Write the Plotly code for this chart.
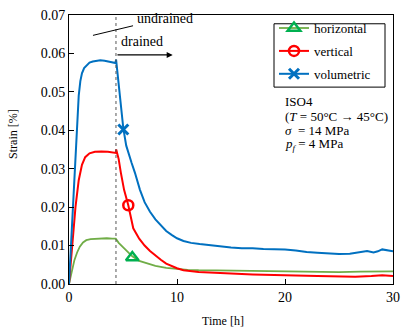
import plotly.graph_objects as go

# ---- data ----
t_vol = [0, 0.2, 0.45, 0.7, 0.9, 1.05, 1.2, 1.4, 1.65, 1.9, 2.2, 2.5, 2.9, 3.3, 3.7, 4.0, 4.3, 4.36,
         4.5, 4.75, 5.03, 5.3, 5.6, 5.8, 6.1, 6.57, 7.0, 7.5, 8.0, 8.5, 9.0, 9.5, 10.0, 10.6, 11.3,
         12.1, 13.0, 14.0, 15.0, 16.0, 17.0, 18.0, 19.0, 20.0, 21.0, 22.0, 23.0, 24.0, 25.0, 26.0,
         26.6, 27.2, 27.6, 28.2, 28.6, 29.0, 29.5, 30.0]
y_vol = [0, 0.011, 0.025, 0.038, 0.049, 0.0528, 0.0548, 0.0562, 0.0570, 0.0576, 0.0579, 0.0581,
         0.0582, 0.0581, 0.0579, 0.0578, 0.0575, 0.0584,
         0.0550, 0.0480, 0.0405, 0.0360, 0.0330, 0.0315, 0.0290, 0.0245, 0.0213, 0.0188, 0.0168,
         0.0152, 0.0138, 0.0128, 0.0119, 0.0112, 0.0107,
         0.0104, 0.0101, 0.0099, 0.0095, 0.0093, 0.0093, 0.0091, 0.0090, 0.0090, 0.0087, 0.0083,
         0.0081, 0.0080, 0.0078, 0.0079, 0.0082, 0.0085, 0.0086, 0.0082, 0.0085, 0.0090, 0.0088, 0.0085]

t_ver = [0, 0.3, 0.6, 0.9, 1.2, 1.5, 1.9, 2.4, 3.0, 3.6, 4.0, 4.33, 4.37, 4.6, 4.8, 5.1, 5.49, 5.95,
         6.5, 7.0, 7.5, 8.0, 8.5, 9.0, 9.5, 10.0, 10.6, 11.3, 12.0, 13.0, 14.0, 15.0, 17.0, 19.0,
         21.0, 23.0, 25.0, 26.5, 28.0, 29.0, 30.0]
y_ver = [0, 0.010, 0.020, 0.027, 0.031, 0.0330, 0.0340, 0.0344, 0.0345, 0.0344, 0.0342, 0.0341,
         0.0350, 0.0325, 0.0290, 0.0245, 0.0205, 0.0145,
         0.0118, 0.0100, 0.0086, 0.0074, 0.0063, 0.0053, 0.0046, 0.0041, 0.0036, 0.0033, 0.0031,
         0.0030, 0.0028, 0.0027, 0.0025, 0.0023, 0.0022, 0.0021, 0.0020, 0.0019, 0.0021, 0.0023, 0.0021]

t_hor = [0, 0.25, 0.5, 0.75, 1.0, 1.3, 1.6, 2.0, 2.5, 3.0, 3.5, 4.0, 4.33, 4.6, 5.0, 5.34, 5.86,
         6.5, 7.0, 7.5, 8.0, 9.0, 10.0, 11.0, 12.0, 14.0, 17.0, 20.0, 23.0, 25.0, 27.0, 30.0]
y_hor = [0, 0.0036, 0.0062, 0.0082, 0.0097, 0.0108, 0.0114, 0.0117, 0.0118, 0.0119, 0.0119, 0.0118,
         0.0118, 0.0107, 0.0095, 0.0086, 0.0072,
         0.0060, 0.0055, 0.0051, 0.0047, 0.0042, 0.0039, 0.0037, 0.0036, 0.0035, 0.0034, 0.0033,
         0.0032, 0.0031, 0.0032, 0.0033]

# one marker per series
mk_hor = (5.86, 0.0069)
mk_ver = (5.49, 0.0205)
mk_vol = (5.03, 0.0402)

t_switch = 4.35  # undrained -> drained

FONT = "Liberation Serif, 'Times New Roman', Times, serif"
GREEN_LINE, GREEN_MK = "#70AD47", "#00B050"
RED = "#FF0000"
BLUE = "#0070C0"

# plot area in page pixels: x 69..393, y 8..284
def px(x):
    return (x - 69) / 324

def py(y):
    return (284 - y) / 276

fig = go.Figure()

fig.add_trace(go.Scatter(x=t_hor, y=y_hor, mode="lines", line=dict(color=GREEN_LINE, width=1.8),
                         showlegend=False))
fig.add_trace(go.Scatter(x=t_ver, y=y_ver, mode="lines", line=dict(color=RED, width=2),
                         showlegend=False))
fig.add_trace(go.Scatter(x=t_vol, y=y_vol, mode="lines", line=dict(color=BLUE, width=2),
                         showlegend=False))

# marker traces carry the legend entries
fig.add_trace(go.Scatter(x=[mk_hor[0]], y=[mk_hor[1]], mode="lines+markers", name="horizontal",
                         legendgroup="h", line=dict(color=GREEN_LINE, width=1.8),
                         marker=dict(symbol="triangle-up-open", size=11, color=GREEN_MK,
                                     line=dict(width=2.5, color=GREEN_MK))))
fig.add_trace(go.Scatter(x=[mk_ver[0]], y=[mk_ver[1]], mode="lines+markers", name="vertical",
                         legendgroup="v", line=dict(color=RED, width=2),
                         marker=dict(symbol="circle-open", size=10, color=RED,
                                     line=dict(width=2.5, color=RED))))
fig.add_trace(go.Scatter(x=[mk_vol[0]], y=[mk_vol[1]], mode="lines+markers", name="volumetric",
                         legendgroup="c", line=dict(color=BLUE, width=2),
                         marker=dict(symbol="x-thin-open", size=10, color=BLUE,
                                     line=dict(width=3, color=BLUE))))

# dotted switch line
fig.add_shape(type="line", x0=t_switch, x1=t_switch, y0=0, y1=0.07, xref="x", yref="y",
              line=dict(color="#555555", width=1, dash="dot"))
# leader line for "undrained"
fig.add_shape(type="line", x0=2.22, y0=0.0647, x1=5.93, y1=0.0672, xref="x", yref="y",
              line=dict(color="black", width=1))
# legend frame
fig.add_shape(type="rect", x0=px(274), x1=px(385), y0=py(17), y1=py(82), xref="paper",
              yref="paper", line=dict(color="black", width=1), fillcolor="white", layer="above")

ann = []
ann.append(dict(x=6.15, y=0.0690, xref="x", yref="y", text="undrained", showarrow=False,
                xanchor="left", yanchor="middle", font=dict(size=14)))
ann.append(dict(x=4.6, y=0.0632, xref="x", yref="y", text="drained", showarrow=False,
                xanchor="left", yanchor="middle", font=dict(size=14)))
ann.append(dict(x=9.6, y=0.0596, ax=t_switch, ay=0.0596, xref="x", yref="y", axref="x", ayref="y",
                text="", showarrow=True, arrowhead=2, arrowsize=1, arrowwidth=1.2,
                arrowcolor="black"))

info = ["ISO4", "(<i>T</i> = 50°C → 45°C)", "<i>σ</i>  = 14 MPa", "<i>p<sub>f</sub></i> = 4 MPa"]
info_y = [97, 112, 126.5, 141]
for txt, yy in zip(info, info_y):
    ann.append(dict(x=px(283), y=py(yy), xref="paper", yref="paper", text=txt,
                    showarrow=False, xanchor="left", yanchor="middle", font=dict(size=13)))

ann.append(dict(x=px(13), y=py(130), xref="paper", yref="paper", xanchor="center",
                yanchor="middle", text="Strain [%]", textangle=-90, showarrow=False,
                font=dict(size=12)))
ann.append(dict(x=px(223), y=py(322), xref="paper", yref="paper", xanchor="center",
                yanchor="middle", text="Time [h]", showarrow=False, font=dict(size=12)))

fig.update_layout(
    width=415, height=332,
    margin=dict(l=69, r=22, t=8, b=48),
    paper_bgcolor="white", plot_bgcolor="white",
    font=dict(family=FONT, color="black", size=14),
    annotations=ann,
    showlegend=True,
    legend=dict(x=px(274), y=py(6), xanchor="left", yanchor="top",
                borderwidth=0, bgcolor="rgba(0,0,0,0)",
                font=dict(size=13), traceorder="grouped", tracegroupgap=3),
    xaxis=dict(range=[0, 30], dtick=10, ticks="inside", ticklen=5, tickcolor="black",
               showline=True, linecolor="black", linewidth=1, mirror=True,
               showgrid=False, zeroline=False, tickfont=dict(size=14)),
    yaxis=dict(range=[0, 0.07], dtick=0.01, tickformat=".2f", ticks="inside", ticklen=5,
               tickcolor="black", showline=True, linecolor="black", linewidth=1, mirror=True,
               showgrid=False, zeroline=False, tickfont=dict(size=14)),
)

fig.write_html("out.html", config={"displayModeBar": False},
               post_script="document.body.style.margin='0';")
